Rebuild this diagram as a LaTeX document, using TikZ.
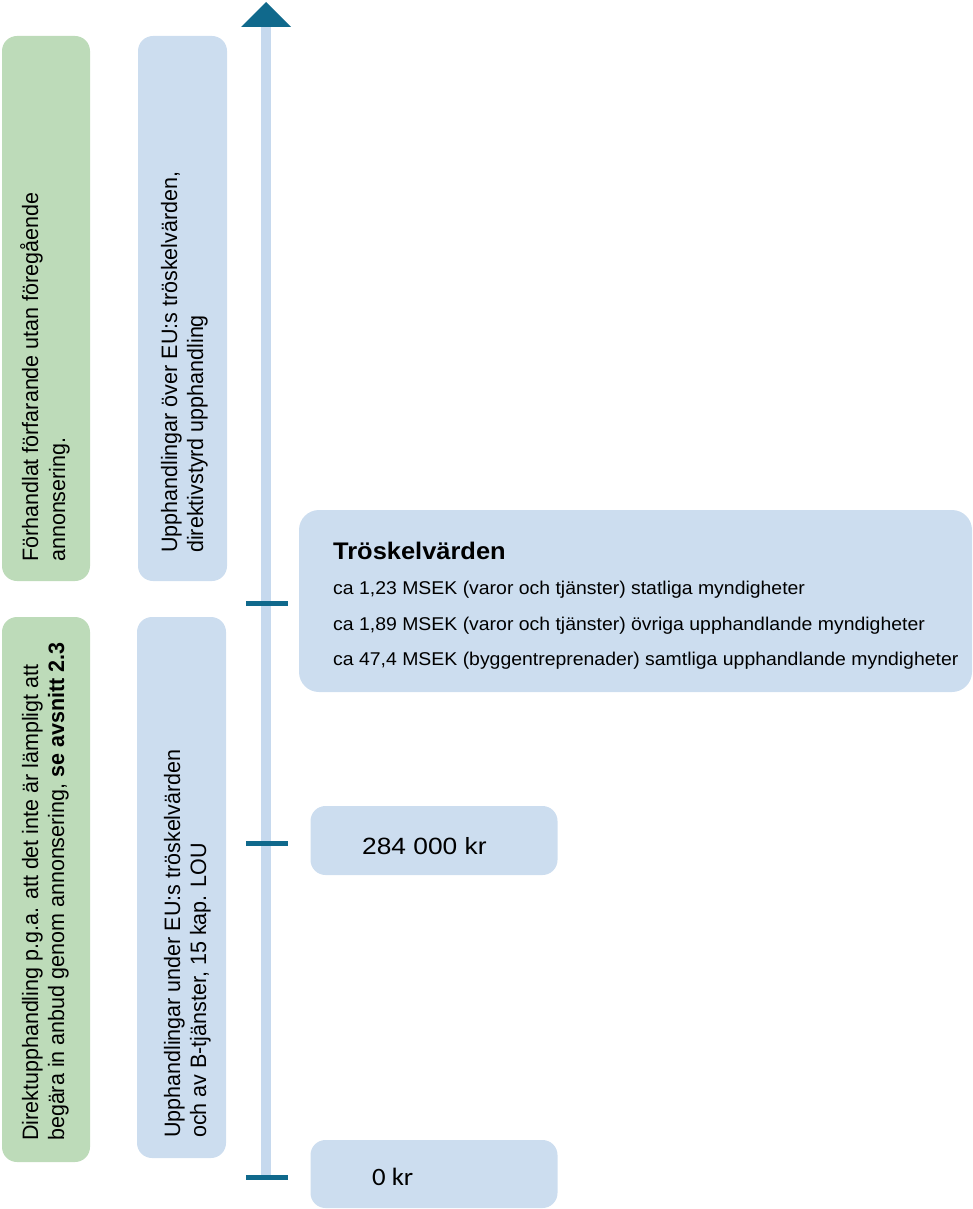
\documentclass[tikz,border=0pt]{standalone}
\usepackage{fontspec}
\setmainfont{Liberation Sans}
\newfontfamily\calib{Carlito}
\definecolor{boxgreen}{HTML}{BDDBB9}
\definecolor{boxblue}{HTML}{CCDDEF}
\definecolor{axisblue}{HTML}{C6D9EE}
\definecolor{teal}{HTML}{10698C}
\newcommand{\wide}[2]{\scalebox{#1}[1]{#2}}
\tikzset{
  panel/.style={fill=#1, draw=none, rounded corners=15pt, inner sep=0pt},
  rottext/.style={rotate=90, anchor=base west, inner sep=0pt, font=\fontsize{22.3}{26}\selectfont},
  linetext/.style={anchor=base west, inner sep=0pt, font=\fontsize{18.5}{22}\selectfont},
  tickmark/.style={draw=teal, line width=5pt},
}
\begin{document}
\begin{tikzpicture}[x=1pt,y=-1pt]
\useasboundingbox (0,0) rectangle (972,1209);
% side panels
\node[panel=boxgreen, minimum width=88pt, minimum height=545pt] (g1) at (46,308.5) {};
\node[panel=boxgreen, minimum width=88pt, minimum height=545pt] (g2) at (46,889.5) {};
\node[panel=boxblue, minimum width=89pt, minimum height=545pt] (b1) at (182.5,308.5) {};
\node[panel=boxblue, minimum width=89pt, minimum height=541pt] (b2) at (181.5,887.5) {};
% rotated texts
\node[rottext] (g1a) at (38,562) {\wide{0.964}{Förhandlat förfarande utan föregående}};
\node[rottext] (g1b) at (65,562) {\wide{0.964}{annonsering.}};
\node[rottext] (b1a) at (177,553) {\wide{0.964}{Upphandlingar över EU:s tröskelvärden,}};
\node[rottext] (b1b) at (203,553) {\wide{0.964}{direktivstyrd upphandling}};
\node[rottext] (g2a) at (38,1141) {\wide{0.964}{Direktupphandling p.g.a. att det inte är lämpligt att}};
\node[rottext] (g2b) at (64,1141) {\wide{0.964}{begära in anbud genom annonsering, \textbf{se avsnitt 2.3}}};
\node[rottext] (b2a) at (180,1138) {\wide{0.964}{Upphandlingar under EU:s tröskelvärden}};
\node[rottext] (b2b) at (206,1138) {\wide{0.964}{och av B-tjänster, 15 kap. LOU}};
% axis
\coordinate (axtop) at (266,27);
\coordinate (axbot) at (266,1180);
\draw[axisblue, line width=10pt] (axbot) -- (axtop);
\fill[teal] (241,27) -- (266,2) -- (291,27) -- cycle;
\coordinate (t1a) at (246,603); \coordinate (t1b) at (288,603);
\coordinate (t2a) at (246,843); \coordinate (t2b) at (288,843);
\coordinate (t3a) at (246,1177); \coordinate (t3b) at (288,1177);
\draw[tickmark] (t1a) -- (t1b);
\draw[tickmark] (t2a) -- (t2b);
\draw[tickmark] (t3a) -- (t3b);
% value boxes
\node[panel=boxblue, rounded corners=20pt, minimum width=673pt, minimum height=182pt] (tb) at (635.5,601) {};
\node[anchor=base west, inner sep=0pt, font=\bfseries\fontsize{24}{28}\selectfont] (tt) at (333,559) {\wide{1.06}{Tröskelvärden}};
\node[linetext] (l1) at (333,594) {\wide{1.05}{ca 1,23 MSEK (varor och tjänster) statliga myndigheter}};
\node[linetext] (l2) at (333,630) {\wide{1.05}{ca 1,89 MSEK (varor och tjänster) övriga upphandlande myndigheter}};
\node[linetext] (l3) at (333,665) {\wide{1.05}{ca 47,4 MSEK (byggentreprenader) samtliga upphandlande myndigheter}};
\node[panel=boxblue, minimum width=247pt, minimum height=69pt] (k1) at (434,840.5) {};
\node[anchor=base west, inner sep=0pt, font=\fontsize{23.5}{28}\selectfont] (k1t) at (362,854) {\wide{1.12}{284 000 kr}};
\node[panel=boxblue, minimum width=247pt, minimum height=68pt] (k0) at (434,1174) {};
\node[anchor=base west, inner sep=0pt, font=\calib\fontsize{25}{29}\selectfont] (k0t) at (372,1185) {\wide{1.07}{0 kr}};
\end{tikzpicture}
\end{document}
